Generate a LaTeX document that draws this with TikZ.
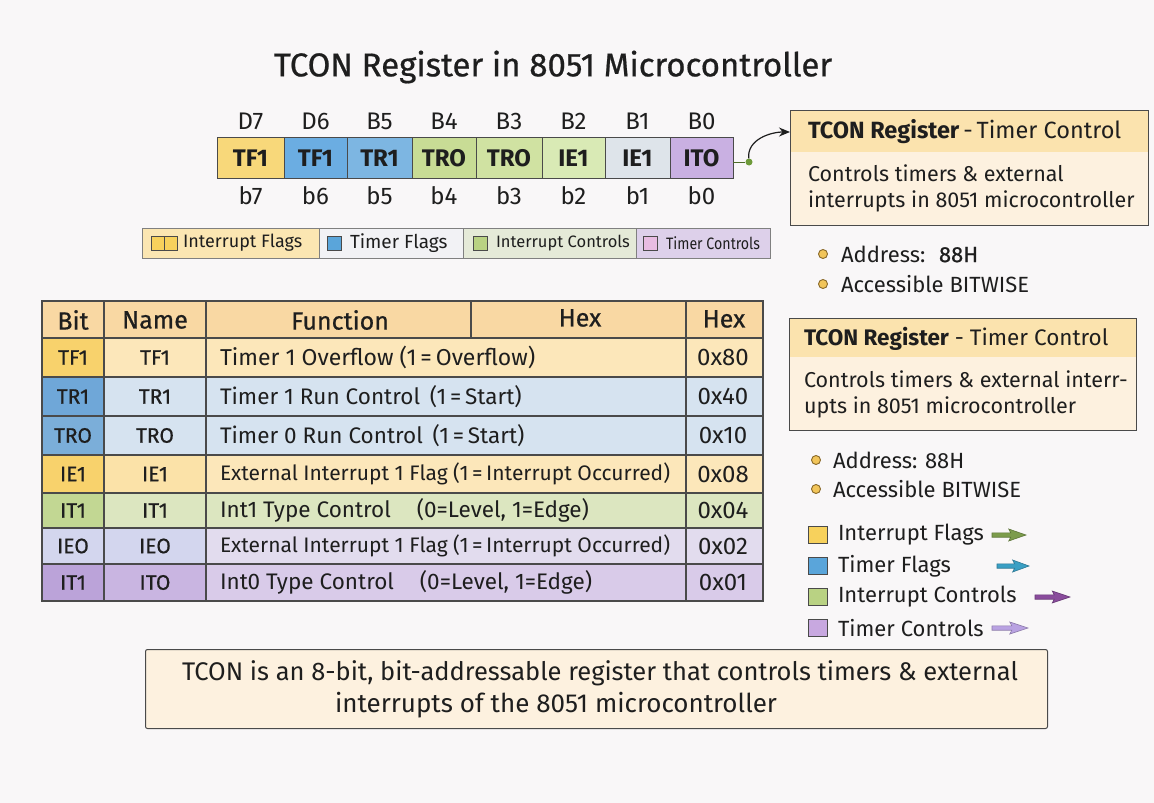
\documentclass[tikz,border=0pt]{standalone}
\usepackage{fontspec}
\setmainfont{Fira Sans}
\newfontfamily\medfont{Fira Sans}[FakeBold=0.6]
\usetikzlibrary{arrows.meta,calc}

\definecolor{bgc}{HTML}{F9F7F8}
\definecolor{ink}{HTML}{1E1E1E}
\definecolor{rule}{HTML}{4A4A4A}
\definecolor{regYel}{HTML}{F8D87A}
\definecolor{regBluA}{HTML}{6BADE2}
\definecolor{regBluB}{HTML}{7DB6E2}
\definecolor{regGrnA}{HTML}{C8DC95}
\definecolor{regGrnB}{HTML}{D0E2A2}
\definecolor{regGrnC}{HTML}{D9EAB5}
\definecolor{regGrey}{HTML}{DEE4EA}
\definecolor{regPur}{HTML}{C9B0E2}
\definecolor{hdrOr}{HTML}{FBE3AE}
\definecolor{bodyOr}{HTML}{FDF1DF}
\definecolor{tblHdr}{HTML}{F9D8A3}
\definecolor{yelB}{HTML}{F8D26C}
\definecolor{yelM}{HTML}{FBE2A8}
\definecolor{yelL}{HTML}{FCE7BA}
\definecolor{bluB}{HTML}{6FA7D8}
\definecolor{bluC}{HTML}{7BAED9}
\definecolor{bluL}{HTML}{D6E3F0}
\definecolor{grnB}{HTML}{C2D793}
\definecolor{grnL}{HTML}{DCE6C0}
\definecolor{lavB}{HTML}{D3D6EE}
\definecolor{lavL}{HTML}{E2DCEE}
\definecolor{purB}{HTML}{BBA3D9}
\definecolor{purM}{HTML}{C9B5E1}
\definecolor{purL}{HTML}{D9CBE9}
\definecolor{legYel}{HTML}{FBE6B2}
\definecolor{legWht}{HTML}{F2F2F5}
\definecolor{legGrn}{HTML}{E5EAD8}
\definecolor{legPur}{HTML}{DDD0EA}
\definecolor{swYel}{HTML}{F7D15C}
\definecolor{swBlu}{HTML}{5AA5DA}
\definecolor{swGrn}{HTML}{B9D283}
\definecolor{swPnk}{HTML}{E8BCE2}
\definecolor{swPur}{HTML}{C8A8E0}
\definecolor{dotFill}{HTML}{F2C55A}
\definecolor{dotLine}{HTML}{8A6A2A}
\definecolor{arGrn}{HTML}{7C9C4C}
\definecolor{arTeal}{HTML}{3A9FC4}
\definecolor{arPur}{HTML}{8A4C9C}
\definecolor{arLav}{HTML}{B9A2E2}
\definecolor{conGrn}{HTML}{6E9A3A}

\newcommand{\fsz}[1]{\fontsize{#1}{#1}\selectfont}

\tikzset{
  txt/.style={inner sep=0pt, outer sep=0pt, text=ink},
  regcell/.style={draw=rule, line width=1pt, inner sep=0pt, outer sep=0pt,
    minimum height=41pt, anchor=west, font=\fsz{24}\bfseries, text=ink},
  bitlab/.style={txt, font=\fsz{24}},
  legseg/.style={draw=rule!70, line width=0.8pt, inner sep=0pt, outer sep=0pt,
    minimum height=30pt, anchor=west},
  legtxt/.style={txt, anchor=west},
  swatch/.style={draw=rule, line width=0.8pt, inner sep=0pt, minimum width=14pt, minimum height=14pt},
  infobox/.style={draw=rule, line width=1pt, fill=bodyOr, inner sep=0pt, outer sep=0pt, anchor=north west},
  boxhead/.style={txt, font=\fsz{22.5}, anchor=west},
  boxbody/.style={txt, font=\fsz{21.5}, anchor=west},
  bullet/.style={circle, fill=dotFill, draw=dotLine, line width=0.9pt, minimum size=9pt, inner sep=0pt},
  bultxt/.style={txt, font=\fsz{22}, anchor=west},
  thead/.style={txt, font=\fsz{25}\medfont},
  tcell/.style={txt, font=\fsz{21}\medfont},
  thex/.style={txt, font=\fsz{24}},
  tfun/.style={txt, anchor=west},
  trule/.style={draw=rule, line width=1.1pt},
  keysw/.style={draw=rule, line width=0.8pt, inner sep=0pt, minimum width=19pt, minimum height=17pt},
  keytxt/.style={txt, font=\fsz{22}, anchor=west},
  fatarrow/.style={line width=0.6pt},
}

\begin{document}
\begin{tikzpicture}[x=1pt,y=-1pt]
\useasboundingbox (0,0) rectangle (1154,803);
\fill[bgc] (0,0) rectangle (1154,803);

% title
\node[txt, font=\fsz{33}\medfont] (title) at (553,67) {TCON Register in 8051 Microcontroller};

% register bit cells
\foreach \xa/\xb/\lab/\col/\tp/\bt [count=\i] in {
  217/284/TF1/regYel/D7/b7, 284/347/TF1/regBluA/D6/b6, 347/412/TR1/regBluB/B5/b5,
  412/476/TRO/regGrnA/B4/b4, 476/542/TRO/regGrnB/B3/b3, 542/605/IE1/regGrnC/B2/b2,
  605/670/IE1/regGrey/B1/b1, 670/733/ITO/regPur/B0/b0} {
  \pgfmathsetmacro\w{\xb-\xa}
  \pgfmathsetmacro\cx{(\xa+\xb)/2}
  \node[regcell, fill=\col, minimum width=\w pt] (r\i) at (\xa,158) {\lab};
  \node[bitlab] (top\i) at (\cx,121) {\tp};
  \node[bitlab] (bot\i) at (\cx,196) {\bt};
}

% colour strip
\node[legseg, fill=legYel, minimum width=177pt] (ls1) at (142,243) {};
\node[legseg, fill=legWht, minimum width=144pt] (ls2) at (319,243) {};
\node[legseg, fill=legGrn, minimum width=173pt] (ls3) at (463,243) {};
\node[legseg, fill=legPur, minimum width=134pt] (ls4) at (636,243) {};
\draw[draw=rule, line width=0.8pt, fill=swYel] (151,236) rectangle (164,250);
\draw[draw=rule, line width=0.8pt, fill=swYel] (164,236) rectangle (177,250);
\node[legtxt, font=\fsz{18}] (lt1) at (183,243) {Interrupt Flags};
\node[swatch, fill=swBlu] (sw2) at (334,243) {};
\node[legtxt, font=\fsz{19}] (lt2) at (350,243) {Timer Flags};
\node[swatch, fill=swGrn] (sw3) at (480,243) {};
\node[legtxt, font=\fsz{16.5}] (lt3) at (496,243) {Interrupt Controls};
\node[swatch, fill=swPnk] (sw4) at (650,243) {};
\node[legtxt, font=\fsz{16.5}] (lt4) at (666,243) {\scalebox{0.86}[1]{Timer Controls}};

% first info box
\node[infobox, minimum width=358pt, minimum height=115pt] (box1) at (790,110) {};
\fill[hdrOr] ([xshift=0.5pt,yshift=-0.5pt]box1.north west) rectangle ([xshift=-0.5pt]box1.north east |- 0,152);
\draw[rule, line width=1pt] (box1.north west) rectangle (box1.south east);
\node[boxhead, font=\fsz{23.5}] (h1) at (808,132) {\bfseries TCON Register\mdseries\,-\,Timer Control};
\node[boxbody] (b1a) at (808,173) {Controls timers \& external};
\node[boxbody] (b1b) at (808,201) {interrupts in 8051 microcontroller};

% connector from the register to the first box
\node[circle, fill=conGrn, inner sep=0pt, minimum size=7pt] (gd) at (749,162) {};
\coordinate (rs) at (r8.east |- gd);
\coordinate (b1in) at (box1.west |- 0,132);
\draw[conGrn!70!black, line width=1pt] (rs) -- (gd);
\draw[ink, line width=1.2pt, -{Stealth[length=11pt,width=9pt]}] (gd) to[out=95,in=180] (b1in);

% bullets under the first box
\node[bullet] (d1) at (823,254) {};
\node[bultxt] (a1) at (841,254) {Address: \ {\medfont 88H}};
\node[bullet] (d2) at (823,284) {};
\node[bultxt] (a2) at (841,284) {Accessible BITWISE};

% second info box
\node[infobox, minimum width=347pt, minimum height=112pt] (box2) at (789,318) {};
\fill[hdrOr] ([xshift=0.5pt,yshift=-0.5pt]box2.north west) rectangle ([xshift=-0.5pt]box2.north east |- 0,357);
\draw[rule, line width=1pt] (box2.north west) rectangle (box2.south east);
\node[boxhead] (h2) at (804,339) {\bfseries TCON Register\mdseries\ -\ Timer Control};
\node[boxbody] (b2a) at (804,379) {Controls timers \& external interr-};
\node[boxbody] (b2b) at (804,407) {upts in 8051 microcontroller};

% bullets under the second box
\node[bullet] (d3) at (816,460) {};
\node[bultxt] (a3) at (833,460) {Address: 88H};
\node[bullet] (d4) at (816,489) {};
\node[bultxt] (a4) at (833,489) {Accessible BITWISE};

% colour key with arrows
\foreach \yy/\sc/\lab/\ac/\ax/\aw [count=\k] in {
  535/swYel/Interrupt Flags/arGrn/992/34, 566/swBlu/Timer Flags/arTeal/997/32,
  597/swGrn/Interrupt Controls/arPur/1035/35, 628/swPur/Timer Controls/arLav/992/36} {
  \node[keysw, fill=\sc] (ks\k) at (818,\yy) {};
  \node[keytxt] (kt\k) at (838,\yy) {\lab};
  \pgfmathsetmacro\xe{\ax+\aw}
  \pgfmathsetmacro\xm{\ax+\aw*0.55}
  \draw[fatarrow, draw=\ac!75!black, fill=\ac]
    (\ax,\yy-2.2) -- (\xm,\yy-2.2) -- (\xm-2,\yy-6) -- (\xe,\yy) -- (\xm-2,\yy+6)
    -- (\xm,\yy+2.2) -- (\ax,\yy+2.2) -- cycle;
}

% register table: header
\fill[tblHdr] (42,301) rectangle (763,338);
\node[thead] (hb) at (73,320) {Bit};
\node[thead] (hn) at (155,320) {Name};
\node[thead] (hf) at (340,320) {Function};
\node[thead] (hh1) at (580,318) {Hex};
\node[thead] (hh2) at (724,319) {Hex};

% register table: rows
\foreach \ya/\yb/\cb/\cn/\cr/\tb/\tn/\fs/\tf/\th [count=\r] in {
  338/377/yelB/yelL/yelL/TF1/TF1/23/{Timer 1 Overflow (1\,=\,Overflow)}/0x80,
  377/416/bluB/bluL/bluL/TR1/TR1/22.5/{Timer 1 Run Control \,(1\,=\,Start)}/0x40,
  416/455/bluC/bluL/bluL/TRO/TRO/22.5/{Timer 0 Run Control \,(1\,=\,Start)}/0x10,
  455/493/yelB/yelM/yelL/IE1/IE1/21/{External Interrupt 1 Flag (1\,=\,Interrupt Occurred)}/0x08,
  493/528/grnB/grnL/grnL/IT1/IT1/22.5/{Int1 Type Control \hspace{20pt}(0=Level, 1=Edge)}/0x04,
  528/564/lavB/lavB/lavL/IEO/IEO/21/{External Interrupt 1 Flag (1\,=\,Interrupt Occurred)}/0x02,
  564/601/purB/purM/purL/IT1/ITO/22.5/{Int0 Type Control \hspace{20pt}(0=Level, 1=Edge)}/0x01} {
  \fill[\cr] (104,\ya) rectangle (763,\yb);
  \fill[\cn] (104,\ya) rectangle (206,\yb);
  \fill[\cb] (42,\ya) rectangle (104,\yb);
  \pgfmathsetmacro\ym{(\ya+\yb)/2}
  \node[tcell] (tb\r) at (73,\ym) {\tb};
  \node[tcell] (tn\r) at (155,\ym) {\tn};
  \node[tfun, font=\fsz{\fs}] (tf\r) at (220,\ym) {\tf};
  \node[thex] (th\r) at (723,\ym) {\th};
}

% register table: rules
\foreach \yy in {338,377,416,455,493,528,564} \draw[trule] (42,\yy) -- (763,\yy);
\foreach \xx in {104,206,686} \draw[trule] (\xx,301) -- (\xx,601);
\draw[trule] (471,301) -- (471,338);
\draw[trule] (42,301) rectangle (763,601);

% summary box
\node[draw=rule, line width=1pt, fill=bodyOr, rounded corners=2pt, minimum width=902pt,
  minimum height=79pt, anchor=north west, inner sep=0pt] (sum) at (145,649) {};
\node[txt, font=\fsz{25.5}] (s1) at (600,673) {TCON is an 8-bit, bit-addressable register that controls timers \& external};
\node[txt, font=\fsz{26}] (s2) at (556,705) {interrupts of the 8051 microcontroller};
\end{tikzpicture}
\end{document}
